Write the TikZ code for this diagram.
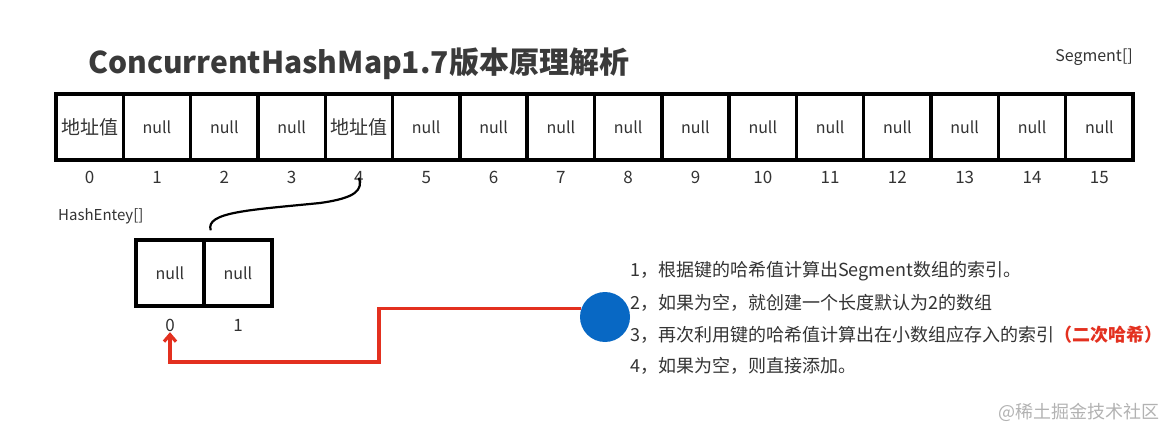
\documentclass[tikz,border=0pt]{standalone}
\usepackage{fontspec}
\setmainfont{Noto Sans CJK SC}
\usetikzlibrary{positioning,arrows.meta}
\tikzset{>=stealth}
\definecolor{txtgray}{HTML}{333333}
\definecolor{titlegray}{HTML}{3A3A3A}
\definecolor{dotblue}{HTML}{0868C4}
\definecolor{hashred}{HTML}{E3301F}
\newcommand\addrtext{{\fontsize{19}{19}\selectfont 地址值}}
\tikzset{
  cell/.style={draw, line width=3.4pt, minimum width=67.3pt, minimum height=66pt,
    inner sep=0pt, font=\fontsize{16}{16}\selectfont, text=txtgray},
  idxlabel/.style={font=\fontsize{17}{17}\selectfont, text=txtgray, inner sep=0pt},
  steptext/.style={anchor=west, inner sep=0pt, font=\fontsize{18}{18}\selectfont, text=txtgray},
  redline/.style={draw=hashred, line width=3.2pt}
}

\begin{document}
\begin{tikzpicture}[x=1pt,y=-1pt]
\useasboundingbox (0,0) rectangle (1172,438);
\node[anchor=west, inner sep=0pt, text=titlegray, font=\fontsize{30}{30}\selectfont\bfseries] (title) at (88,64) {ConcurrentHashMap1.7版本原理解析};
\node[anchor=east, inner sep=0pt, text=txtgray, font=\fontsize{16}{16}\selectfont] (segname) at (1133,57) {Segment[]};
% Segment[] array
\foreach \t [count=\i from 0] in {\addrtext,null,null,null,\addrtext,null,null,null,null,null,null,null,null,null,null,null} {
  \node[cell] (seg\i) at ({89.66+67.3125*\i},127) {\t};
  \node[idxlabel] (idx\i) at ([yshift=-16pt]seg\i.south) {\i};
}
% HashEntey[] array
\node[anchor=west, inner sep=0pt, text=txtgray, font=\fontsize{15}{15}\selectfont] (entryname) at (58,216) {HashEntey[]};
\node[cell, minimum width=68pt] (entry0) at (170,273) {null};
\node[cell, minimum width=68pt] (entry1) at (238,273) {null};
\node[idxlabel] (eidx0) at ([yshift=-18pt]entry0.south) {0};
\node[idxlabel] (eidx1) at ([yshift=-18pt]entry1.south) {1};
\coordinate (link) at ([xshift=5pt,yshift=8pt]entry0.north east);
\draw[line width=2.2pt] (link) .. controls (205,212) and (250,210) .. (320,203)
  .. controls (356,198) and (363,190) .. (idx4.center);
% steps
\node[circle, fill=dotblue, minimum size=50pt, inner sep=0pt] (hashdot) at (605,317) {};
\coordinate (turn) at (379,362);
\draw[redline, -{Straight Barb[length=7pt,width=12pt]}] (hashdot.160) -| (turn) -| (eidx0.south);
\node[steptext] (step1) at (630,271) {1，根据键的哈希值计算出Segment数组的索引。};
\node[steptext] (step2) at (630,303) {2，如果为空，就创建一个长度默认为2的数组};
\node[steptext] (step3) at (630,335) {3，再次利用键的哈希值计算出在小数组应存入的索引{\color{hashred}\bfseries（二次哈希）}};
\node[steptext] (step4) at (630,366) {4，如果为空，则直接添加。};
\node[anchor=east, inner sep=0pt, text=black!30, font=\fontsize{18}{18}\selectfont] (mark) at (1160,412) {@稀土掘金技术社区};
\end{tikzpicture}
\end{document}
